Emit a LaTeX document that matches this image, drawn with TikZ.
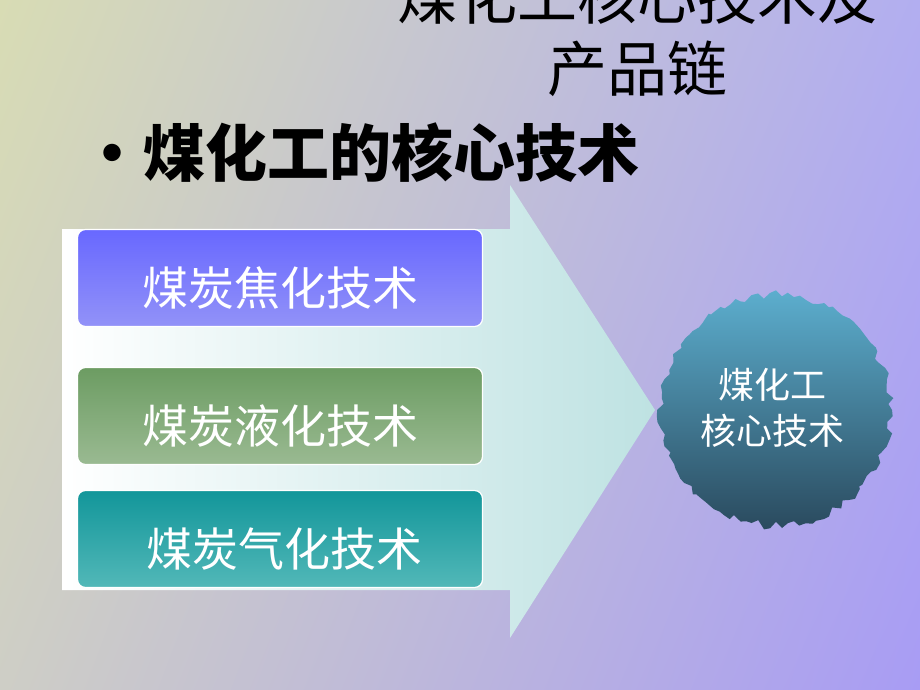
\documentclass[tikz,border=0pt]{standalone}
\usepackage{fontspec}
\newfontfamily\cjk{Noto Sans CJK SC}
\usetikzlibrary{positioning, shadings}

\definecolor{bgTL}{HTML}{D8DCB4}
\definecolor{bgTR}{HTML}{B2AEF0}
\definecolor{bgBL}{HTML}{CECEC6}
\definecolor{bgBR}{HTML}{A89CF4}
\definecolor{arrowCyan}{HTML}{BEE2E2}
\definecolor{cokeTop}{HTML}{6868FF}
\definecolor{cokeBot}{HTML}{9292F8}
\definecolor{liqTop}{HTML}{6C9C62}
\definecolor{liqBot}{HTML}{9ABA92}
\definecolor{gasTop}{HTML}{12969A}
\definecolor{gasBot}{HTML}{52B8B8}
\definecolor{burstTop}{HTML}{5CAECE}
\definecolor{burstBot}{HTML}{2A4A5E}

\begin{document}
\begin{tikzpicture}
	[x=1pt, y=-1pt,
	 techbox/.style={rounded corners=8pt, draw=white, line width=1.2pt,
	   minimum width=405pt, minimum height=97pt, inner sep=0pt,
	   text=white, font=\cjk\fontsize{46}{46}\selectfont,
	   text height=54pt, text depth=0pt},
	 core/.style={text=white, align=center,
	   font=\cjk\fontsize{36}{46}\selectfont}]
   \useasboundingbox (0,0) rectangle (920,690);
   \shade[upper left=bgTL, upper right=bgTR, lower left=bgBL, lower right=bgBR]
     (0,0) rectangle (920,690);

   % title, cut at the top
   \node[align=center, font=\cjk\fontsize{60}{72}\selectfont] (title) at (637,33)
     {煤化工核心技术及\\产品链};
   \node[anchor=west, font=\cjk\bfseries\fontsize{62}{62}\selectfont] (bullet) at (78,153)
     {•煤化工的核心技术};

   % big arrow
   \shade[left color=white, right color=arrowCyan]
     (62,229) -- (510,229) -- (510,185) -- (655,410) -- (510,638)
     -- (510,590) -- (62,590) -- cycle;

   \node[techbox, top color=cokeTop, bottom color=cokeBot] (coke) at (280,278) {煤炭焦化技术};
   \node[techbox, top color=liqTop, bottom color=liqBot] (liquid) at (280,416) {煤炭液化技术};
   \node[techbox, top color=gasTop, bottom color=gasBot] (gas) at (280,539) {\hspace{8pt}煤炭气化技术};

   % jagged disc
   \pgfmathsetseed{17}
   \shade[top color=burstTop, bottom color=burstBot, shift={(776,410)}]
     (0:116) \foreach \a in {3,6,...,357} { -- (\a:{111+9*rnd}) } -- cycle;
   \node[core] (coreTech) at (772,408) {煤化工\\核心技术};
\end{tikzpicture}
\end{document}
